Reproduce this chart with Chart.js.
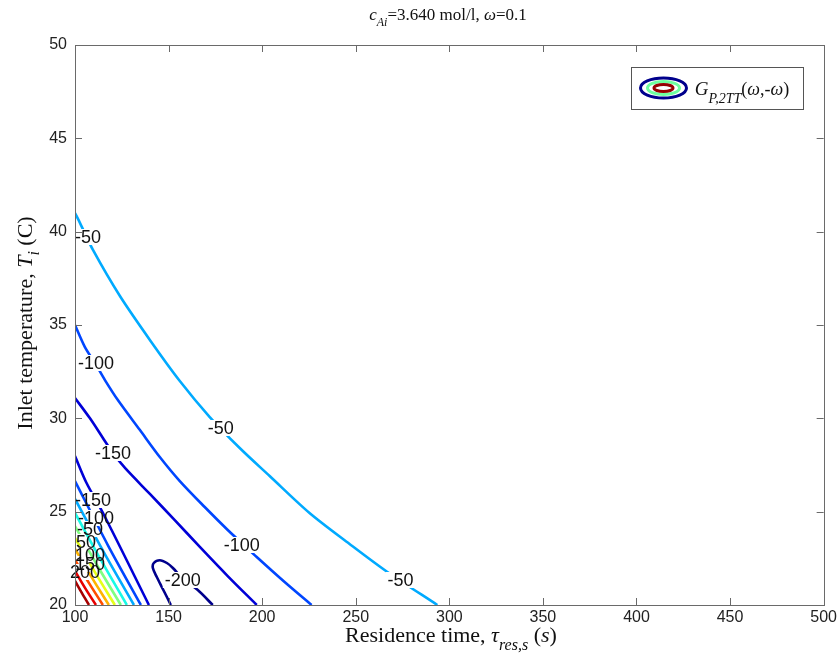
<!DOCTYPE html>
<html>
<head>
<meta charset="utf-8">
<script src="https://cdn.jsdelivr.net/npm/chart.js@4.4.1/dist/chart.umd.min.js"></script>
<style>
  html, body { margin: 0; background: #fff; }
  #wrap { width: 840px; height: 662px; }
</style>
</head>
<body>
<div id="wrap"><canvas id="c" width="840" height="662"></canvas></div>
<script>
// axis ticks
const xTickValues = [100, 150, 200, 250, 300, 350, 400, 450, 500];
const yTickValues = [20, 25, 30, 35, 40, 45, 50];

// contour levels (outer branch + inner fan near the corner)
const levels = [-200, -150, -100, -50, 0, 50, 100, 150, 200, 250, 300];

// outer contours [residence time, inlet temperature]
const outerM50 = [[100, 41.0], [102.7, 40.46], [109.6, 39.02], [124, 36.55], [140, 34.2], [156, 32.0],
  [172, 30.07], [188, 28.41], [204, 26.91], [225.3, 24.93], [246.7, 23.27], [266.9, 21.77], [293.6, 20]];
const outerM100 = [[100, 35.0], [105.3, 33.82], [110.7, 32.96], [116, 32.05], [122.9, 30.98],
  [134.7, 29.37], [145.3, 27.93], [156, 26.64], [169.3, 25.25], [181.6, 24.02], [189.1, 23.32],
  [197.1, 22.57], [212, 21.23], [226.4, 20]];
const outerM150 = [[100, 31.09], [108, 30.0], [114.9, 28.95], [120.3, 28.14], [126.7, 27.34],
  [140, 25.95], [153.3, 24.55], [166.7, 23.11], [181.6, 21.55], [197.1, 20]];
const troughM200 = [[151.2, 20], [149.1, 20.43], [146.4, 20.96], [143.7, 21.5], [141.6, 21.98],
  [142.1, 22.25], [145.3, 22.4], [149.1, 22.25], [152.3, 21.98], [157.6, 21.4], [165.6, 20.8], [173.6, 20]];

// inner fan contours, bottom-left corner
const innerM150 = [[100, 27.98], [105.9, 26.59], [115.5, 24.82], [139.5, 20]];
const innerM100 = [[100, 26.64], [117.6, 23.2], [135.2, 20]];
const innerM50 = [[100, 25.68], [115.8, 22.75], [131.5, 20]];
const inner0 = [[100, 24.93], [113.9, 22.4], [127.7, 20]];
const inner50 = [[100, 24.23], [112.3, 22.05], [124.5, 20]];
const inner100 = [[100, 23.59], [110.7, 21.75], [121.3, 20]];
const inner150 = [[100, 23.0], [109.1, 21.45], [118.1, 20]];
const inner200 = [[100, 22.41], [107.5, 21.17], [114.9, 20]];
const inner250 = [[100, 21.82], [105.6, 20.88], [111.2, 20]];
const inner300 = [[100, 21.29], [103.8, 20.62], [107.5, 20]];

// contour labels [level, x, y]
const contourLabels = [
  [-50, 106.9, 39.71], [-50, 177.9, 29.48], [-50, 273.9, 21.34],
  [-100, 111.2, 32.96], [-100, 189.1, 23.21],
  [-150, 120.3, 28.14], [-200, 157.6, 21.34],
  [-150, 109.6, 25.63], [-100, 111.2, 24.66], [-50, 108, 24.07],
  [50, 105.9, 23.37], [100, 108, 22.68], [150, 108, 22.2], [200, 105.3, 21.77]
];

const levelColors = {
  '-200': 'rgb(0,0,140)', '-150': 'rgb(0,0,215)', '-100': 'rgb(0,70,255)', '-50': 'rgb(0,170,255)',
  '0': 'rgb(25,250,230)', '50': 'rgb(128,255,128)', '100': 'rgb(230,255,25)', '150': 'rgb(255,180,0)',
  '200': 'rgb(255,77,0)', '250': 'rgb(230,0,0)', '300': 'rgb(165,0,0)'
};

const contours = [
  [-50, outerM50], [-100, outerM100], [-150, outerM150], [-200, troughM200],
  [-150, innerM150], [-100, innerM100], [-50, innerM50], [0, inner0], [50, inner50],
  [100, inner100], [150, inner150], [200, inner200], [250, inner250], [300, inner300]
];

const SANS = '"Liberation Sans", Arial, sans-serif';
const SERIF = '"Liberation Serif", "Times New Roman", serif';
const LABEL_FONT = '18px ' + SANS;

// which contour each label sits on: nearest contour of the same level
const labelOwner = contourLabels.map(l => {
  let best = -1, bd = Infinity;
  contours.forEach((c, i) => {
    if (c[0] !== l[0]) return;
    c[1].forEach(p => {
      const d = Math.hypot((p[0] - l[1]) / 50, (p[1] - l[2]) / 5);
      if (d < bd) { bd = d; best = i; }
    });
  });
  return best;
});

function drawRich(ctx, parts, x, y) {
  let total = 0;
  const ws = parts.map(p => {
    ctx.font = (p.it ? 'italic ' : '') + p.size + 'px ' + SERIF;
    const w = ctx.measureText(p.t).width;
    total += w;
    return w;
  });
  let cx = x - total / 2;
  parts.forEach((p, i) => {
    ctx.font = (p.it ? 'italic ' : '') + p.size + 'px ' + SERIF;
    ctx.fillText(p.t, cx, y + (p.dy || 0));
    cx += ws[i];
  });
}

const decorPlugin = {
  id: 'decor',
  beforeDatasetDraw(chart, args) {
    // break the line under its own labels, like clabel does
    const ctx = chart.ctx, xs = chart.scales.x, ys = chart.scales.y;
    ctx.save();
    ctx.font = LABEL_FONT;
    ctx.beginPath();
    ctx.rect(0, 0, chart.width, chart.height);
    contourLabels.forEach((l, k) => {
      if (labelOwner[k] !== args.index) return;
      const w = ctx.measureText(String(l[0])).width + 4;
      const cx = xs.getPixelForValue(l[1]), cy = ys.getPixelForValue(l[2]);
      ctx.rect(cx - w / 2, cy - 8, w, 16);
    });
    ctx.clip('evenodd');
  },
  afterDatasetDraw(chart) {
    chart.ctx.restore();
  },
  afterDatasetsDraw(chart) {
    const ctx = chart.ctx, xs = chart.scales.x, ys = chart.scales.y;
    ctx.save();
    ctx.font = LABEL_FONT;
    ctx.textAlign = 'center';
    ctx.textBaseline = 'middle';
    ctx.fillStyle = '#111';
    contourLabels.forEach(l => {
      ctx.fillText(String(l[0]), xs.getPixelForValue(l[1]), ys.getPixelForValue(l[2]) + 1);
    });
    ctx.restore();
  },
  afterDraw(chart) {
    const ctx = chart.ctx, xs = chart.scales.x, ys = chart.scales.y, a = chart.chartArea;
    ctx.save();
    // axes box with inward ticks
    ctx.strokeStyle = '#6a6a6a';
    ctx.lineWidth = 1;
    ctx.strokeRect(Math.round(a.left) + 0.5, Math.round(a.top) + 0.5,
      Math.round(a.right - a.left), Math.round(a.bottom - a.top));
    ctx.beginPath();
    xTickValues.forEach(v => {
      const px = Math.round(xs.getPixelForValue(v)) + 0.5;
      ctx.moveTo(px, a.bottom); ctx.lineTo(px, a.bottom - 7);
      ctx.moveTo(px, a.top); ctx.lineTo(px, a.top + 7);
    });
    yTickValues.forEach(v => {
      const py = Math.round(ys.getPixelForValue(v)) + 0.5;
      ctx.moveTo(a.left, py); ctx.lineTo(a.left + 7, py);
      ctx.moveTo(a.right, py); ctx.lineTo(a.right - 7, py);
    });
    ctx.stroke();

    // legend box
    ctx.fillStyle = '#fff';
    ctx.fillRect(631, 67, 172, 42);
    ctx.strokeStyle = '#555';
    ctx.strokeRect(631.5, 67.5, 172, 42);
    ctx.lineWidth = 3;
    [[23, 10, 'rgb(0,0,140)'], [16, 6.5, 'rgb(110,255,160)'], [9.5, 3.5, 'rgb(150,0,0)']].forEach(e => {
      ctx.strokeStyle = e[2];
      ctx.beginPath();
      ctx.ellipse(663.5, 88, e[0], e[1], 0, 0, Math.PI * 2);
      ctx.stroke();
    });
    ctx.fillStyle = '#111';
    ctx.textAlign = 'left';
    ctx.textBaseline = 'alphabetic';
    drawRich(ctx, [
      {t: 'G', size: 19, it: true},
      {t: 'P,2TT', size: 14, it: true, dy: 8},
      {t: '(', size: 18},
      {t: 'ω', size: 18, it: true},
      {t: ',-', size: 18},
      {t: 'ω', size: 18, it: true},
      {t: ')', size: 18}
    ], 742, 95);

    // title
    drawRich(ctx, [
      {t: 'c', size: 17, it: true},
      {t: 'Ai', size: 12, it: true, dy: 6},
      {t: '=3.640 mol/l, ', size: 17},
      {t: 'ω', size: 17, it: true},
      {t: '=0.1', size: 17}
    ], 448, 20);

    // x axis title
    drawRich(ctx, [
      {t: 'Residence time, ', size: 22},
      {t: 'τ', size: 22, it: true},
      {t: 'res,s', size: 16, it: true, dy: 8},
      {t: ' (', size: 22},
      {t: 's', size: 22, it: true},
      {t: ')', size: 22}
    ], 451, 642);

    // y axis title
    ctx.translate(32, 323);
    ctx.rotate(-Math.PI / 2);
    drawRich(ctx, [
      {t: 'Inlet temperature, ', size: 22},
      {t: 'T', size: 22, it: true},
      {t: 'i', size: 16, it: true, dy: 7},
      {t: ' (C)', size: 22}
    ], 0, 0);
    ctx.restore();
  }
};

new Chart(document.getElementById('c'), {
  type: 'scatter',
  data: {
    datasets: contours.map(c => ({
      data: c[1].map(p => ({x: p[0], y: p[1]})),
      showLine: true,
      borderColor: levelColors[String(c[0])],
      borderWidth: 2.6,
      pointRadius: 0,
      tension: 0.3,
      fill: false
    }))
  },
  options: {
    responsive: false,
    devicePixelRatio: 1,
    animation: false,
    events: [],
    layout: { padding: { left: 0, right: 14, top: 45, bottom: 0 } },
    plugins: { legend: { display: false }, tooltip: { enabled: false } },
    scales: {
      x: {
        type: 'linear', min: 100, max: 500,
        afterBuildTicks: s => { s.ticks = xTickValues.map(v => ({value: v})); },
        afterFit: s => { s.height = 57; },
        grid: { display: false, drawTicks: false },
        border: { display: false },
        ticks: { color: '#222', font: { family: SANS, size: 16 }, padding: 3, maxRotation: 0 }
      },
      y: {
        type: 'linear', min: 20, max: 50,
        afterBuildTicks: s => { s.ticks = yTickValues.map(v => ({value: v})); },
        afterFit: s => { s.width = 75; },
        grid: { display: false, drawTicks: false },
        border: { display: false },
        ticks: { color: '#222', font: { family: SANS, size: 16 }, padding: 8 }
      }
    }
  },
  plugins: [decorPlugin]
});
</script>
</body>
</html>
